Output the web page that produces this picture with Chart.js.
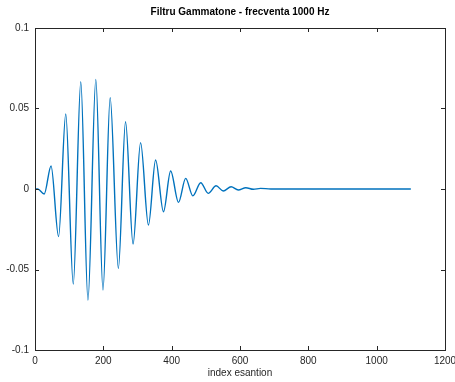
<!DOCTYPE html>
<html>
<head>
<meta charset="utf-8">
<script src="https://cdn.jsdelivr.net/npm/chart.js@4"></script>
<style>
  body { margin: 0; background: #fff; }
  canvas { display: block; }
</style>
</head>
<body>
<canvas id="chart" width="455" height="382"></canvas>
<script>
// extrema of the impulse response (sample index, amplitude)
const sampleIdx = [0, 8, 27, 47, 69, 90, 112, 134, 155, 178, 199, 220, 244, 265, 287, 309, 332, 353, 376, 397, 420, 441, 462, 485, 507, 530, 551, 574, 595, 617, 639, 660, 690, 1100];
const amplitude = [0, 0, -0.0031, 0.0143, -0.0296, 0.0466, -0.059, 0.0666, -0.069, 0.0681, -0.0627, 0.0567, -0.0493, 0.0418, -0.0342, 0.0288, -0.0224, 0.018, -0.0141, 0.0112, -0.0083, 0.0066, -0.0043, 0.0039, -0.0027, 0.002, -0.0012, 0.0014, -0.0006, 0.0008, -0.0002, 0.0004, 0, 0];
const xTicks = [0, 200, 400, 600, 800, 1000, 1200];
const yTicks = [-0.1, -0.05, 0, 0.05, 0.1];

const textColor = '#262626';
const font = 'Liberation Sans, Arial, sans-serif';

// MATLAB-like box with inward ticks, title and x label
const boxPlugin = {
  id: 'box',
  afterDraw(chart) {
    const { ctx, chartArea: a, scales } = chart;
    ctx.save();
    ctx.strokeStyle = '#262626';
    ctx.lineWidth = 1;
    ctx.strokeRect(Math.round(a.left) + 0.5, Math.round(a.top) + 0.5,
      Math.round(a.right - a.left), Math.round(a.bottom - a.top));
    ctx.beginPath();
    xTicks.forEach(v => {
      const x = Math.round(scales.x.getPixelForValue(v)) + 0.5;
      ctx.moveTo(x, a.bottom); ctx.lineTo(x, a.bottom - 4);
      ctx.moveTo(x, a.top); ctx.lineTo(x, a.top + 4);
    });
    yTicks.forEach(v => {
      const y = Math.round(scales.y.getPixelForValue(v)) + 0.5;
      ctx.moveTo(a.left, y); ctx.lineTo(a.left + 4, y);
      ctx.moveTo(a.right, y); ctx.lineTo(a.right - 4, y);
    });
    ctx.stroke();
    ctx.fillStyle = '#000';
    ctx.textAlign = 'center';
    ctx.textBaseline = 'middle';
    ctx.font = 'bold 10px ' + font;
    ctx.fillText('Filtru Gammatone - frecventa 1000 Hz', (a.left + a.right) / 2, 12);
    ctx.fillStyle = textColor;
    ctx.font = '10px ' + font;
    ctx.fillText('index esantion', (a.left + a.right) / 2, 373);
    ctx.restore();
  }
};

new Chart(document.getElementById('chart'), {
  type: 'line',
  data: {
    datasets: [{
      data: sampleIdx.map((x, i) => ({ x: x, y: amplitude[i] })),
      borderColor: '#0072BD',
      borderWidth: 1.4,
      pointRadius: 0,
      fill: false,
      cubicInterpolationMode: 'monotone'
    }]
  },
  options: {
    responsive: false,
    animation: false,
    layout: { padding: { left: 0, right: 10, top: 28, bottom: 0 } },
    plugins: { legend: { display: false }, title: { display: false }, tooltip: { enabled: false } },
    scales: {
      x: {
        type: 'linear', min: 0, max: 1200,
        grid: { display: false, drawTicks: false },
        border: { display: false },
        afterBuildTicks: s => { s.ticks = xTicks.map(v => ({ value: v })); },
        afterFit: s => { s.height = 32; s.paddingLeft = 0; s.paddingRight = 0; },
        ticks: {
          color: textColor, font: { family: font, size: 10 }, padding: 5, maxRotation: 0,
          callback: v => String(v)
        }
      },
      y: {
        type: 'linear', min: -0.1, max: 0.1,
        grid: { display: false, drawTicks: false },
        border: { display: false },
        afterBuildTicks: s => { s.ticks = yTicks.map(v => ({ value: v })); },
        afterFit: s => { s.width = 35; s.paddingTop = 0; s.paddingBottom = 0; },
        ticks: {
          color: textColor, font: { family: font, size: 10 }, padding: 6,
          callback: v => String(Math.round(v * 100) / 100)
        }
      }
    }
  },
  plugins: [boxPlugin]
});
</script>
</body>
</html>
